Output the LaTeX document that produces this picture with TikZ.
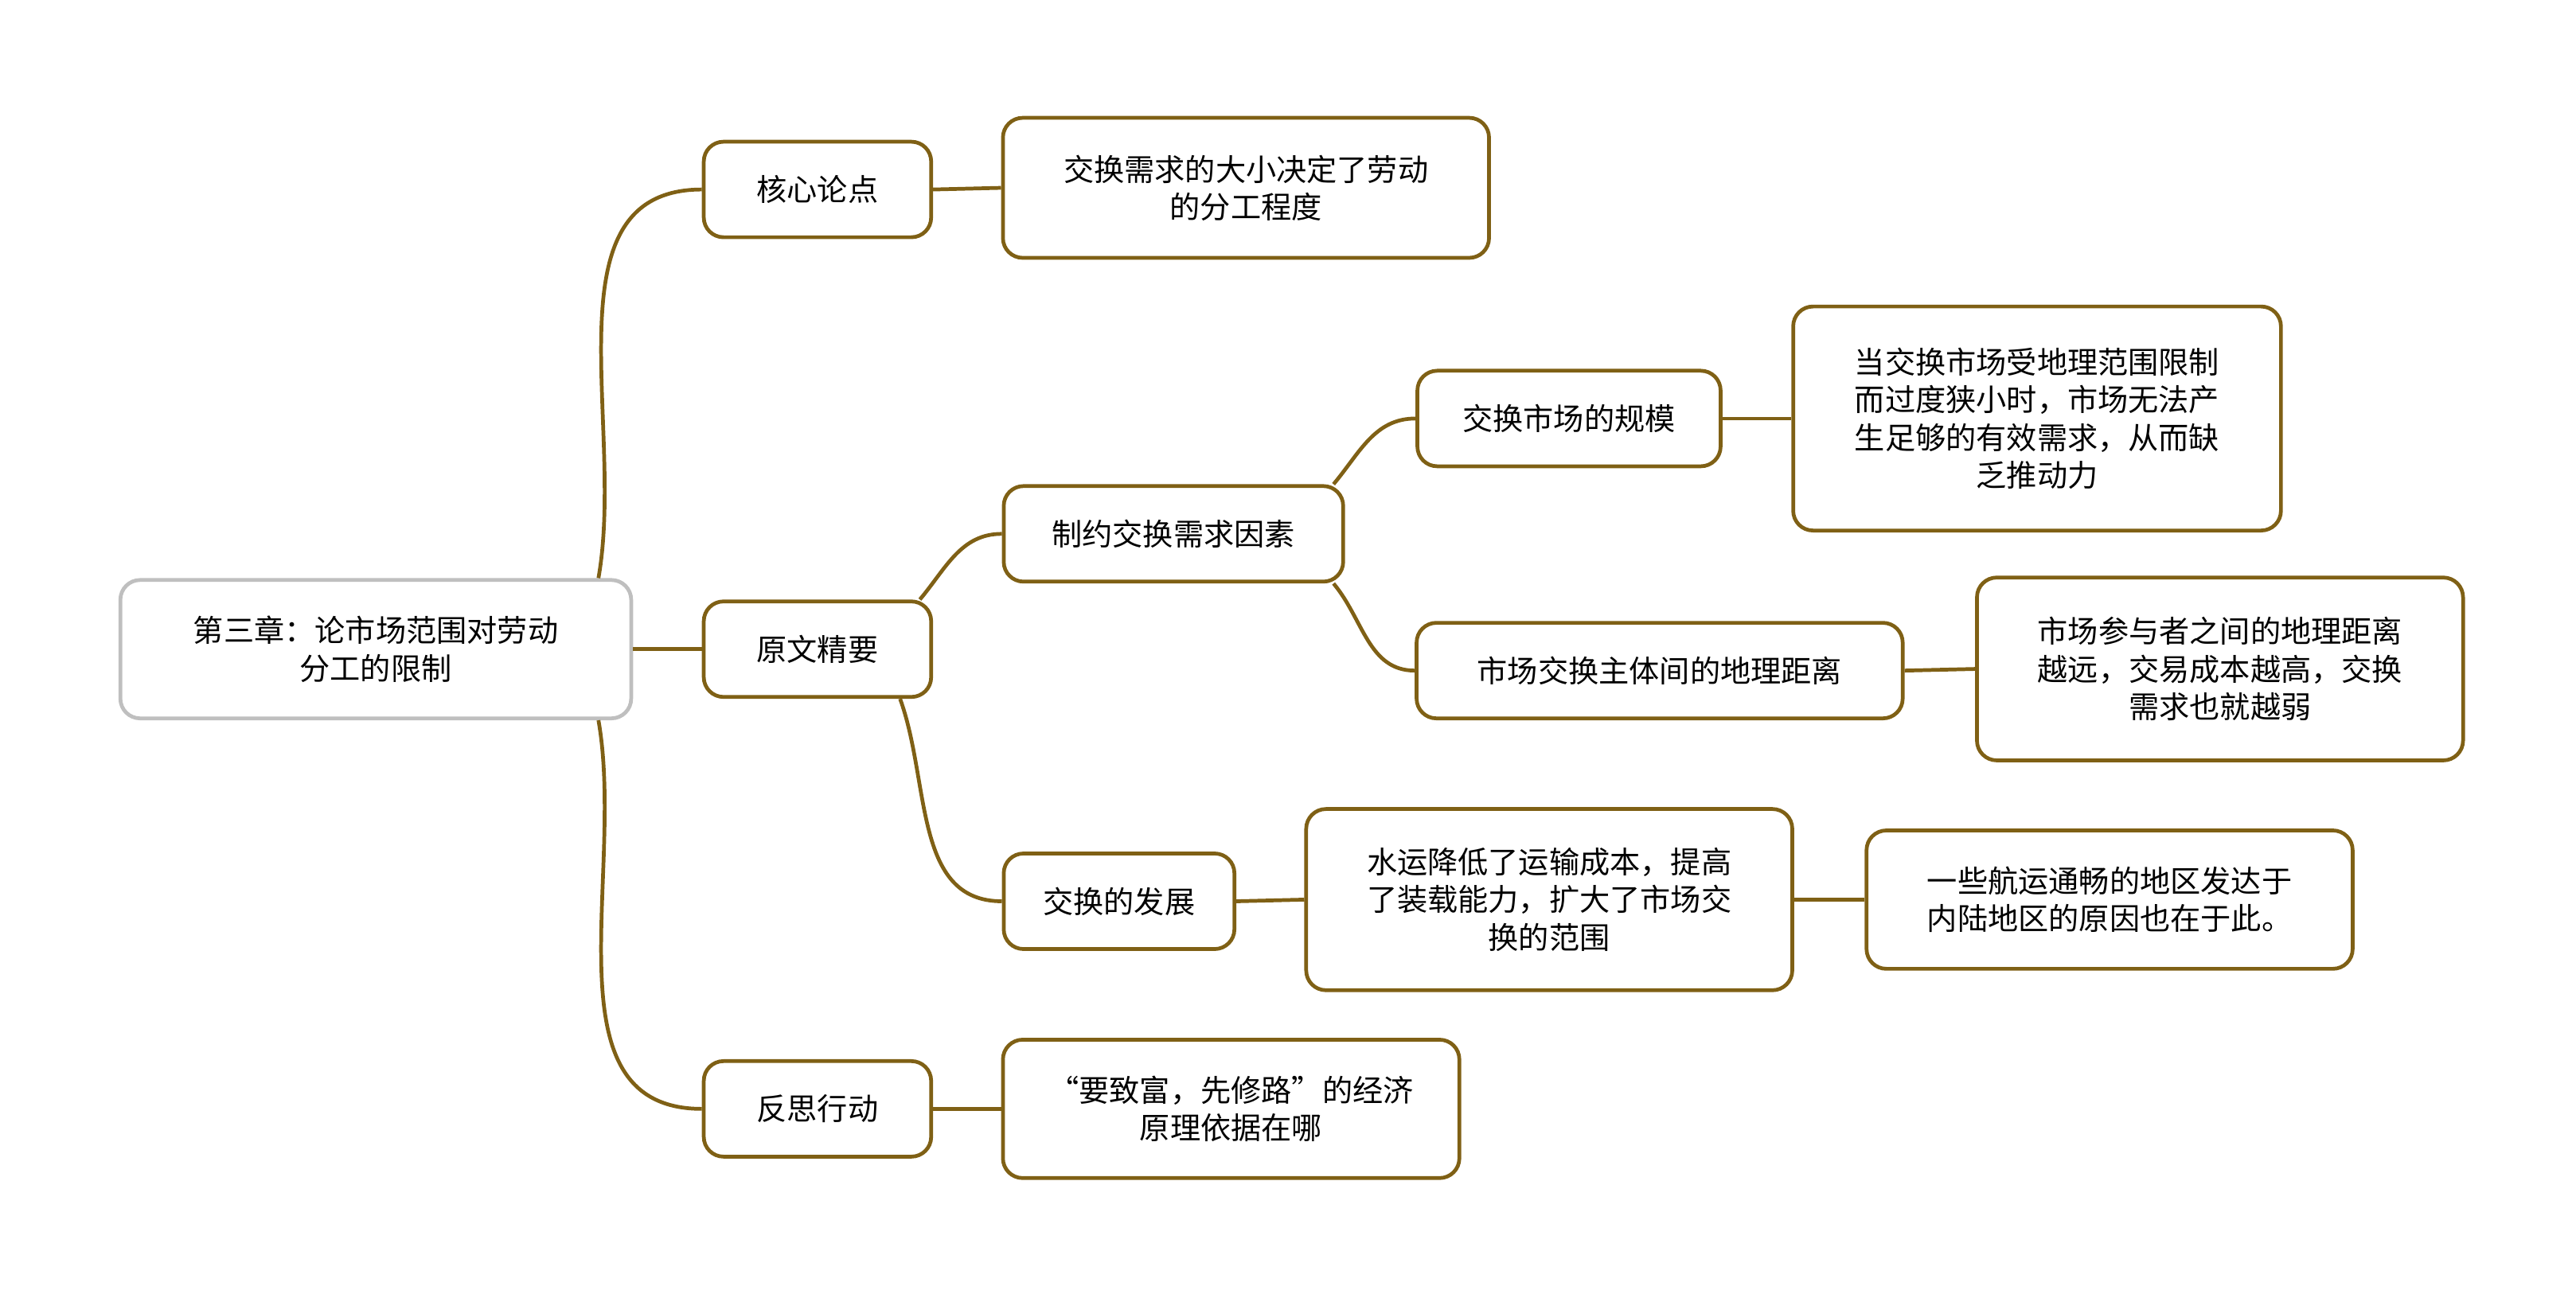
\documentclass[tikz,border=0pt]{standalone}
\usepackage{fontspec}
\setmainfont{Noto Sans CJK SC}
\usetikzlibrary{positioning}
\definecolor{brn}{HTML}{7F6015}
\tikzset{
  box/.style={draw=brn, line width=1.3pt, rounded corners=0.24cm, fill=white,
    align=center, font=\fontsize{10.5}{13}\selectfont, inner sep=0pt},
  root/.style={box, draw=gray!50},
  link/.style={draw=brn, line width=1.3pt}
}
\begin{document}
\begin{tikzpicture}[x=0.02cm,y=-0.02cm]
  \useasboundingbox (0,0) rectangle (1563,785);
  % first level
  \node[root, minimum width=6.2cm, minimum height=1.68cm] (root) at (228,394) {第三章：论市场范围对劳动\\分工的限制};
  \node[box, minimum width=2.76cm, minimum height=1.16cm] (core) at (496,115) {核心论点};
  \node[box, minimum width=2.76cm, minimum height=1.16cm] (text) at (496,394) {原文精要};
  \node[box, minimum width=2.76cm, minimum height=1.16cm] (act) at (496,673) {反思行动};
  % second level
  \node[box, minimum width=5.9cm, minimum height=1.7cm] (need) at (756,114) {交换需求的大小决定了劳动\\的分工程度};
  \node[box, minimum width=4.12cm, minimum height=1.16cm] (limit) at (712,324) {制约交换需求因素};
  \node[box, minimum width=2.8cm, minimum height=1.16cm] (dev) at (679,547) {交换的发展};
  \node[box, minimum width=5.54cm, minimum height=1.68cm] (road) at (747,673) {“要致富，先修路”的经济\\原理依据在哪};
  % third level
  \node[box, minimum width=3.68cm, minimum height=1.16cm] (scale) at (952,254) {交换市场的规模};
  \node[box, minimum width=5.9cm, minimum height=1.16cm] (dist) at (1007,407) {市场交换主体间的地理距离};
  \node[box, minimum width=5.9cm, minimum height=2.2cm] (water) at (940,546) {水运降低了运输成本，提高\\了装载能力，扩大了市场交\\换的范围};
  % fourth level
  \node[box, minimum width=5.92cm, minimum height=2.72cm] (small) at (1236,254) {当交换市场受地理范围限制\\而过度狭小时，市场无法产\\生足够的有效需求，从而缺\\乏推动力};
  \node[box, minimum width=5.9cm, minimum height=2.22cm] (far) at (1347,406) {市场参与者之间的地理距离\\越远，交易成本越高，交换\\需求也就越弱};
  \node[box, minimum width=5.9cm, minimum height=1.68cm] (ship) at (1280,546) {一些航运通畅的地区发达于\\内陆地区的原因也在于此。};
  % connectors
  \draw[link] ([xshift=-0.42cm]root.north east) to[out=80,in=180] (core.west);
  \draw[link] (root.east) -- (text.west);
  \draw[link] ([xshift=-0.42cm]root.south east) to[out=-80,in=180] (act.west);
  \draw[link] (core.east) -- (need.west);
  \draw[link] (act.east) -- (road.west);
  \draw[link] ([xshift=-0.16cm]text.north east) to[out=50,in=180] (limit.west);
  \draw[link] ([xshift=-0.4cm]text.south east) to[out=-70,in=180] (dev.west);
  \draw[link] ([xshift=-0.14cm]limit.north east) to[out=50,in=180] (scale.west);
  \draw[link] ([xshift=-0.14cm]limit.south east) to[out=-50,in=180] (dist.west);
  \draw[link] (scale.east) -- (small.west);
  \draw[link] (dist.east) -- (far.west);
  \draw[link] (dev.east) -- (water.west);
  \draw[link] (water.east) -- (ship.west);
\end{tikzpicture}
\end{document}
